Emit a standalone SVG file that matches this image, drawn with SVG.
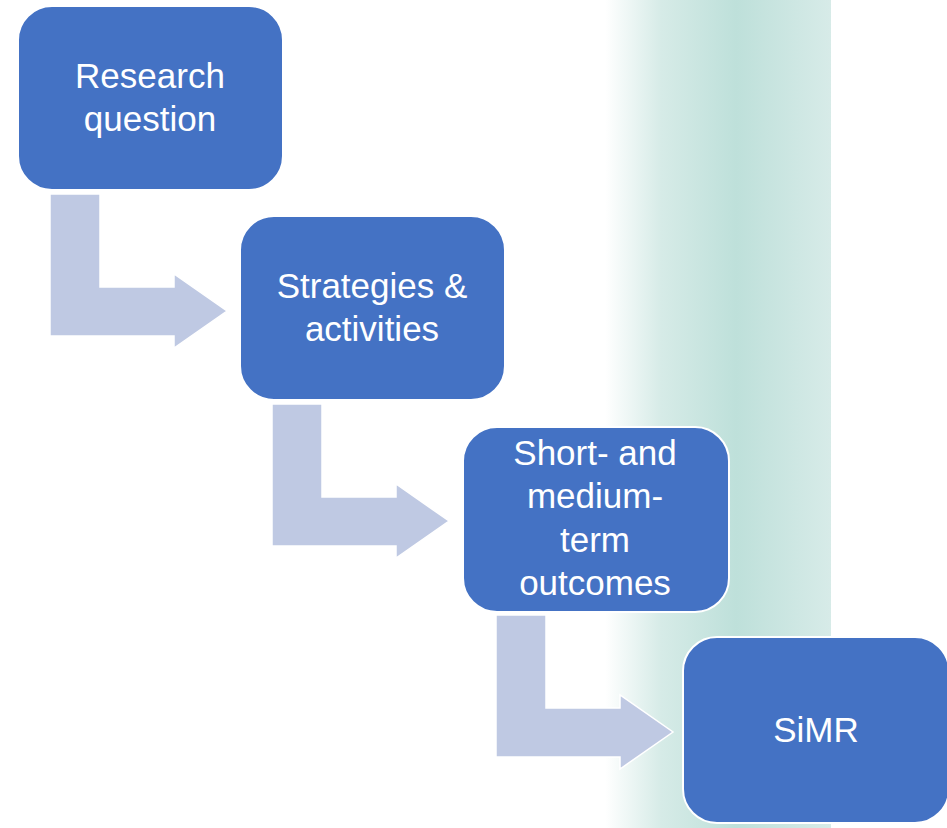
<svg xmlns="http://www.w3.org/2000/svg" width="947" height="828" viewBox="0 0 947 828">
<defs>
<linearGradient id="band" x1="0" y1="0" x2="1" y2="0">
<stop offset="0" stop-color="#ffffff"/>
<stop offset="0.25" stop-color="#d6ebe7"/>
<stop offset="0.58" stop-color="#bee0da"/>
<stop offset="1" stop-color="#d7ebe8"/>
</linearGradient>
<path id="arrow" d="M50,194 L100,194 L100,287 L174,287 L174,274 L227,311 L174,348 L174,336 L50,336 Z"/>
</defs>
<style>
.box{fill:#4472c4;stroke:#ffffff;stroke-width:2}
.arr{fill:#bfc9e3;stroke:#ffffff;stroke-width:1.5}
.lbl{font-family:"Liberation Sans",Arial,sans-serif;font-size:35px;fill:#ffffff;text-anchor:middle}
</style>
<rect x="605" y="0" width="226" height="828" fill="url(#band)"/>
<g id="connectors">
<use href="#arrow" class="arr"/>
<use href="#arrow" class="arr" transform="translate(222,210)"/>
<use href="#arrow" class="arr" transform="translate(446,421)"/>
</g>
<g id="research-question">
<rect class="box" x="18" y="6" width="265" height="184" rx="34"/>
<text class="lbl" x="150" y="88">Research</text>
<text class="lbl" x="150" y="131">question</text>
</g>
<g id="strategies">
<rect class="box" x="240" y="216" width="265" height="184" rx="34"/>
<text class="lbl" x="372" y="298">Strategies &amp;</text>
<text class="lbl" x="372" y="341">activities</text>
</g>
<g id="outcomes">
<rect class="box" x="463" y="427" width="266" height="185" rx="34"/>
<text class="lbl" x="595" y="465">Short- and</text>
<text class="lbl" x="595" y="508">medium-</text>
<text class="lbl" x="595" y="552">term</text>
<text class="lbl" x="595" y="595">outcomes</text>
</g>
<g id="simr">
<rect class="box" x="683" y="637" width="266" height="186" rx="34"/>
<text class="lbl" x="816" y="742">SiMR</text>
</g>
</svg>
